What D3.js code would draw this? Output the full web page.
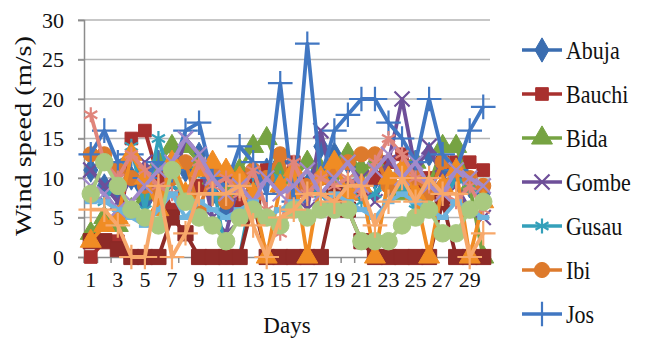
<!DOCTYPE html>
<html>
<head>
<meta charset="utf-8">
<script src="https://cdn.jsdelivr.net/npm/d3@7"></script>
<style>
  body { margin: 0; background: #fff; }
  svg text { font-family: 'Liberation Serif', 'Times New Roman', serif !important; fill: #111; }
</style>
</head>
<body>
<script>
// days on the x axis
var days = d3.range(1, 31);
var dayLabels = days.filter(function(d) { return d % 2 === 1; });
var yTicks = [0, 5, 10, 15, 20, 25, 30];

// wind speed per station (m/s)
var abuja    = [11, 9, 8, 10, 7, 9, 12, 11, 13, 8, 6, 10, 9, 11, 12, 8, 9, 14, 13, 12, 11, 10, 9, 11, 12, 13, 11, 10, 9, 8];
var bauchi   = [0, 2, 2, 15, 16, 10, 6, 8, 9, 11, 10, 7, 9, 11, 10, 12, 9, 10, 11, 9, 8, 10, 12, 13, 9, 10, 12, 12, 12, 11];
var bida     = [3, 5, 4, 6, 8, 12, 14, 14, 12, 10, 8, 11, 14, 15, 11, 10, 12, 11, 9, 13, 11, 12, 10, 8, 12, 9, 14, 14, 9, 0];
var gombe    = [11, 9, 7, 10, 12, 8, 9, 15, 13, 5, 3, 10, 8, 10, 9, 11, 6, 16, 8, 9, 10, 7, 12, 20, 11, 14, 10, 9, 6, 5];
var gusau    = [8, 7, 10, 14, 6, 15, 9, 8, 11, 10, 0, 0, 9, 10, 10, 10, 9, 8, 6, 9, 7, 8, 10, 9, 6, 8, 7, 10, 9, 8];
var ibi      = [13, 13, 11, 10, 9, 8, 10, 12, 6, 11, 7, 10, 11, 10, 13, 8, 9, 10, 11, 12, 13, 13, 9, 11, 10, 8, 12, 11, 10, 9];
var jos      = [13, 16, 12, 13, 10, 12, 11, 16, 17, 10, 9, 14, 12, 8, 22, 7, 27, 10, 16, 18, 20, 20, 17, 15, 12, 20, 13, 11, 16, 19];
var kano     = [2, 2, 1, 0, 0, 0, 5, 3, 0, 0, 0, 0, 7, 0, 0, 0, 0, 0, 8, 6, 2, 0, 0, 0, 0, 0, 7, 0, 0, 0];
var katsina  = [2, 4, 5, 13, 10, 6, 12, 8, 11, 12, 11, 10, 8, 0, 9, 11, 0, 10, 12, 8, 9, 0, 10, 11, 8, 0, 9, 11, 0, 7];
var lokoja   = [18, 12, 10, 13, 11, 9, 8, 7, 12, 9, 10, 8, 11, 6, 3, 12, 8, 10, 9, 10, 8, 12, 15, 13, 10, 9, 8, 7, 9, 6];
var maiduguri= [9, 8, 6, 7, 9, 11, 12, 15, 13, 10, 8, 9, 7, 10, 8, 9, 11, 8, 10, 12, 9, 11, 13, 10, 12, 9, 8, 11, 10, 9];
var minna    = [7, 7, 6, 5, 4, 6, 8, 5, 7, 6, 5, 6, 7, 5, 6, 7, 5, 6, 8, 7, 6, 5, 7, 8, 7, 6, 5, 7, 6, 5];
var nguru    = [8, 12, 9, 6, 5, 4, 11, 7, 5, 4, 2, 5, 6, 5, 4, 6, 5, 6, 6, 6, 2, 2, 2, 4, 5, 6, 3, 3, 6, 7];
var potiskum = [6, 6, 4, 0, 0, 9, 0, 3, 8, 8, 8, 9, 4, 0, 5, 6, 8, 8, 7, 9, 9, 4, 7, 10, 7, 10, 8, 8, 0, 3];

var seriesNames  = ["Abuja", "Bauchi", "Bida", "Gombe", "Gusau", "Ibi", "Jos",
                    "Kano", "Katsina", "Lokoja", "Maiduguri", "Minna", "Nguru", "Potiskum"];
var seriesValues = [abuja, bauchi, bida, gombe, gusau, ibi, jos,
                    kano, katsina, lokoja, maiduguri, minna, nguru, potiskum];
var seriesColors = ["#3a6db0", "#a8302e", "#76a342", "#6e4f99", "#34a0ba", "#dd7a2c", "#4177c2",
                    "#8e2a27", "#f08c24", "#e0857c", "#a28acb", "#6db4de", "#a9c97f", "#f7a86a"];
var seriesMarkers = ["diamond", "square", "triangle", "x", "star", "circle", "plus",
                     "bigsquare", "triangle", "star", "x", "dash", "bigcircle", "plus"];
var legendCount = 7; // only first seven fit in the legend

var width = 649, height = 342;
var margin = {top: 20, left: 84, right: 159, bottom: 85};

var svg = d3.select("body").append("svg")
  .attr("width", width)
  .attr("height", height)
  .attr("font-family", "Liberation Serif");

var xChart = d3.scaleBand()
  .domain(days)
  .range([margin.left, width - margin.right])
  .padding(0);

var yChart = d3.scaleLinear()
  .domain([0, 30])
  .range([height - margin.bottom, margin.top]);

function cx(d) { return xChart(d) + xChart.bandwidth() / 2; }

//gridlines (with small left ticks)
svg.append("g")
  .selectAll("line")
  .data(yTicks.slice(1))
  .enter().append("line")
    .attr("x1", margin.left - 6)
    .attr("x2", width - margin.right)
    .attr("y1", function(d) { return yChart(d); })
    .attr("y2", function(d) { return yChart(d); })
    .attr("stroke", "#b5b5b5")
    .attr("stroke-width", 1.5);

//left axis
var yAxis = d3.axisLeft(yChart).tickValues(yTicks).tickSize(6).tickPadding(14);
var gy = svg.append("g")
  .attr("class", "y axis")
  .attr("transform", "translate(" + margin.left + ",0)")
  .call(yAxis)
  .attr("font-family", null)
  .attr("font-size", null);
gy.select(".domain").attr("stroke", "#8c8c8c").attr("stroke-width", 1.5);
gy.selectAll(".tick line").attr("stroke", "#8c8c8c").attr("stroke-width", 1.5);
gy.selectAll("text").style("font-size", "22px").attr("fill", "#111");

//bottom axis, labels on odd days
var xAxis = d3.axisBottom(xChart).tickValues(dayLabels).tickSize(0).tickPadding(14);
var gx = svg.append("g")
  .attr("class", "xAxis")
  .attr("transform", "translate(0," + yChart(0) + ")")
  .call(xAxis)
  .attr("font-family", null)
  .attr("font-size", null);
gx.select(".domain").attr("stroke", "#8c8c8c").attr("stroke-width", 1.5);
gx.selectAll("text").style("font-size", "22px").attr("fill", "#111");

//tick marks between categories
svg.append("g")
  .selectAll("line")
  .data(d3.range(0, days.length + 1))
  .enter().append("line")
    .attr("x1", function(i) { return margin.left + i * xChart.step(); })
    .attr("x2", function(i) { return margin.left + i * xChart.step(); })
    .attr("y1", yChart(0))
    .attr("y2", yChart(0) + 6)
    .attr("stroke", "#8c8c8c")
    .attr("stroke-width", 1.5);

//axis titles
svg.append("text")
  .attr("x", 287)
  .attr("y", 333)
  .attr("text-anchor", "middle")
  .style("font-size", "23px")
  .text("Days");

svg.append("text")
  .attr("transform", "translate(31,136) rotate(-90)")
  .attr("text-anchor", "middle")
  .attr("textLength", 200)
  .attr("lengthAdjust", "spacingAndGlyphs")
  .style("font-size", "23px")
  .text("Wind speed (m/s)");

//marker drawing
function marker(g, type, color, x, y, s) {
  var sym, filled = true;
  if (type === "diamond") sym = d3.symbol(d3.symbolDiamond, 170 * s);
  else if (type === "square") sym = d3.symbol(d3.symbolSquare, 160 * s);
  else if (type === "bigsquare") sym = d3.symbol(d3.symbolSquare, 230 * s);
  else if (type === "triangle") sym = d3.symbol(d3.symbolTriangle, 190 * s);
  else if (type === "circle") sym = d3.symbol(d3.symbolCircle, 180 * s);
  else if (type === "bigcircle") sym = d3.symbol(d3.symbolCircle, 240 * s);
  else if (type === "x") { sym = d3.symbol(d3.symbolX, 150 * s); filled = false; }
  else if (type === "star") { sym = d3.symbol(d3.symbolAsterisk, 160 * s); filled = false; }
  else if (type === "plus") { sym = d3.symbol(d3.symbolPlus, 200 * s); filled = false; }
  else if (type === "dash") {
    g.append("line")
      .attr("x1", x - 6).attr("x2", x + 6).attr("y1", y).attr("y2", y)
      .attr("stroke", color).attr("stroke-width", 5);
    return;
  }
  g.append("path")
    .attr("d", sym())
    .attr("transform", "translate(" + x + "," + y + ")")
    .attr("fill", filled ? color : "none")
    .attr("stroke", color)
    .attr("stroke-width", filled ? 1 : 2.2);
}

var line = d3.line()
  .x(function(d, i) { return cx(days[i]); })
  .y(function(d) { return yChart(d); });

seriesValues.forEach(function(vals, k) {
  var g = svg.append("g").attr("class", "series");
  g.append("path")
    .datum(vals)
    .attr("d", line)
    .attr("fill", "none")
    .attr("stroke", seriesColors[k])
    .attr("stroke-width", 3.8)
    .attr("stroke-linejoin", "round");
  vals.forEach(function(v, i) {
    marker(g, seriesMarkers[k], seriesColors[k], cx(days[i]), yChart(v), 1);
  });
});

//legend
var legend = svg.append("g").attr("class", "legend");
seriesNames.slice(0, legendCount).forEach(function(name, k) {
  var ly = 50 + k * 44;
  legend.append("line")
    .attr("x1", 522).attr("x2", 562)
    .attr("y1", ly).attr("y2", ly)
    .attr("stroke", seriesColors[k])
    .attr("stroke-width", 3.5);
  marker(legend, seriesMarkers[k], seriesColors[k], 542, ly, 1);
  legend.append("text")
    .attr("transform", "translate(566," + ly + ") scale(1,1.15)")
    .attr("dy", "0.35em")
    .style("font-size", "22px")
    .text(name);
});
</script>
</body>
</html>
